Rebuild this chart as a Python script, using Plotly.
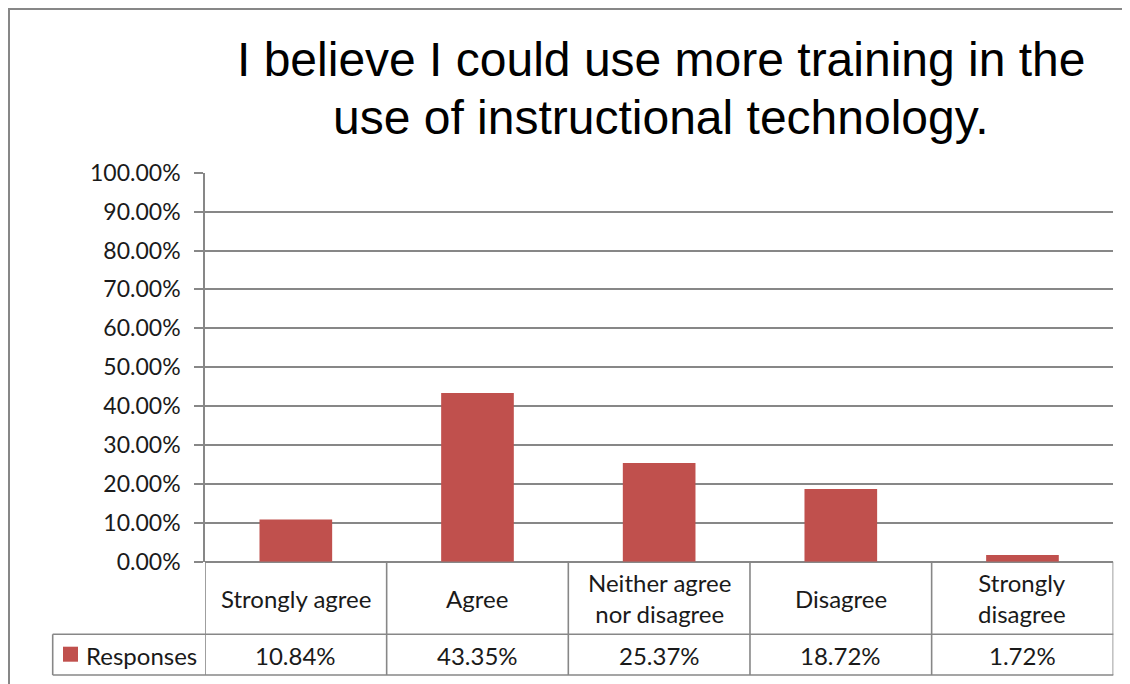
import plotly.graph_objects as go

# ---- data ----
categories = ["Strongly agree", "Agree", "Neither agree nor disagree", "Disagree", "Strongly disagree"]
category_labels = ["Strongly agree", "Agree", "Neither agree<br>nor disagree", "Disagree", "Strongly<br>disagree"]
values = [0.1084, 0.4335, 0.2537, 0.1872, 0.0172]
value_labels = ["10.84%", "43.35%", "25.37%", "18.72%", "1.72%"]
series_name = "Responses"
title_lines = ["I believe I could use more training in the", "use of instructional technology."]
y_tick_values = [0.0, 0.1, 0.2, 0.3, 0.4, 0.5, 0.6, 0.7, 0.8, 0.9, 1.0]

# ---- geometry helpers (page has an 8px body margin; coordinates below are page pixels) ----
OFF = 8
W, H = 1130 - OFF, 684 - OFF
def px(x):
    return (x - OFF) / W
def py(y):
    return 1 - (y - OFF) / H

BAR_COLOR = "#C0504D"
LINE_COLOR = "#878787"
TEXT_COLOR = "#1a1a1a"
TABLE_FONT = "Lato"

plot_left, plot_right = 205, 1113.3
plot_top, plot_bottom = 172.7, 561.7
row1_bottom, row2_bottom = 634.3, 675
legend_left = 52.7

fig = go.Figure()
fig.add_trace(go.Bar(
    x=list(range(len(categories))),
    y=values,
    name=series_name,
    marker=dict(color=BAR_COLOR, line=dict(width=0)),
    width=0.4,
    hovertext=categories,
))

shapes = []
line = dict(color=LINE_COLOR, width=1.6)
n = len(categories)
# vertical lines of the category/value table
for i in range(n + 1):
    xv = i - 0.5
    shapes.append(dict(type="line", xref="x", yref="paper", x0=xv, x1=xv,
                       y0=py(plot_bottom), y1=py(row2_bottom), line=line))
# horizontal lines of the table
for yy in (row1_bottom, row2_bottom):
    shapes.append(dict(type="line", xref="paper", yref="paper", x0=px(legend_left), x1=px(plot_right),
                       y0=py(yy), y1=py(yy), line=line))
# left edge of legend cell
shapes.append(dict(type="line", xref="paper", yref="paper", x0=px(legend_left), x1=px(legend_left),
                   y0=py(row1_bottom), y1=py(row2_bottom), line=line))
# legend key square
shapes.append(dict(type="rect", xref="paper", yref="paper", x0=px(63), x1=px(78),
                   y0=py(646.7), y1=py(661.7), fillcolor=BAR_COLOR, line=dict(width=0)))
# outer chart border
shapes.append(dict(type="rect", xref="paper", yref="paper", x0=px(9), x1=px(1150),
                   y0=py(9), y1=py(720), line=dict(color=LINE_COLOR, width=2), fillcolor="rgba(0,0,0,0)"))

annotations = []
# title
for ln, yc in zip(title_lines, (59.5, 117)):
    annotations.append(dict(text=ln, xref="paper", yref="paper", x=px(661), y=py(yc),
                            xanchor="center", yanchor="middle", showarrow=False,
                            font=dict(family="Liberation Sans, Arial", size=48, color="#000000")))
# category labels & values
for i in range(n):
    annotations.append(dict(text=category_labels[i], xref="x", yref="paper", x=i, y=py(598.3),
                            xanchor="center", yanchor="middle", showarrow=False,
                            font=dict(family=TABLE_FONT, size=24, color=TEXT_COLOR)))
    annotations.append(dict(text=value_labels[i], xref="x", yref="paper", x=i, y=py(655),
                            xanchor="center", yanchor="middle", showarrow=False,
                            font=dict(family=TABLE_FONT, size=24, color=TEXT_COLOR)))
annotations.append(dict(text=series_name, xref="paper", yref="paper", x=px(84), y=py(655),
                        xanchor="left", yanchor="middle", showarrow=False,
                        font=dict(family=TABLE_FONT, size=24, color=TEXT_COLOR)))

fig.update_layout(
    template="none",
    width=W, height=H,
    margin=dict(l=0, r=0, t=0, b=0, pad=0, autoexpand=False),
    paper_bgcolor="white", plot_bgcolor="white",
    showlegend=False,
    bargap=0.6,
    xaxis=dict(domain=[px(plot_left), px(plot_right)], range=[-0.5, n - 0.5], automargin=False,
               showticklabels=False, showgrid=False, zeroline=False, showline=False, ticks=""),
    yaxis=dict(domain=[py(plot_bottom), py(plot_top)], range=[0, 1], automargin=False,
               tickvals=y_tick_values, tickformat=".2%",
               showgrid=True, gridcolor=LINE_COLOR, gridwidth=1.6,
               zeroline=True, zerolinecolor=LINE_COLOR, zerolinewidth=1.6,
               showline=True, linecolor=LINE_COLOR, linewidth=1.6,
               ticks="outside", ticklen=9, tickwidth=1.6, tickcolor=LINE_COLOR,
               ticklabelstandoff=9,
               tickfont=dict(family=TABLE_FONT, size=23, color=TEXT_COLOR)),
    shapes=shapes,
    annotations=annotations,
)

fig.write_html("out.html")
